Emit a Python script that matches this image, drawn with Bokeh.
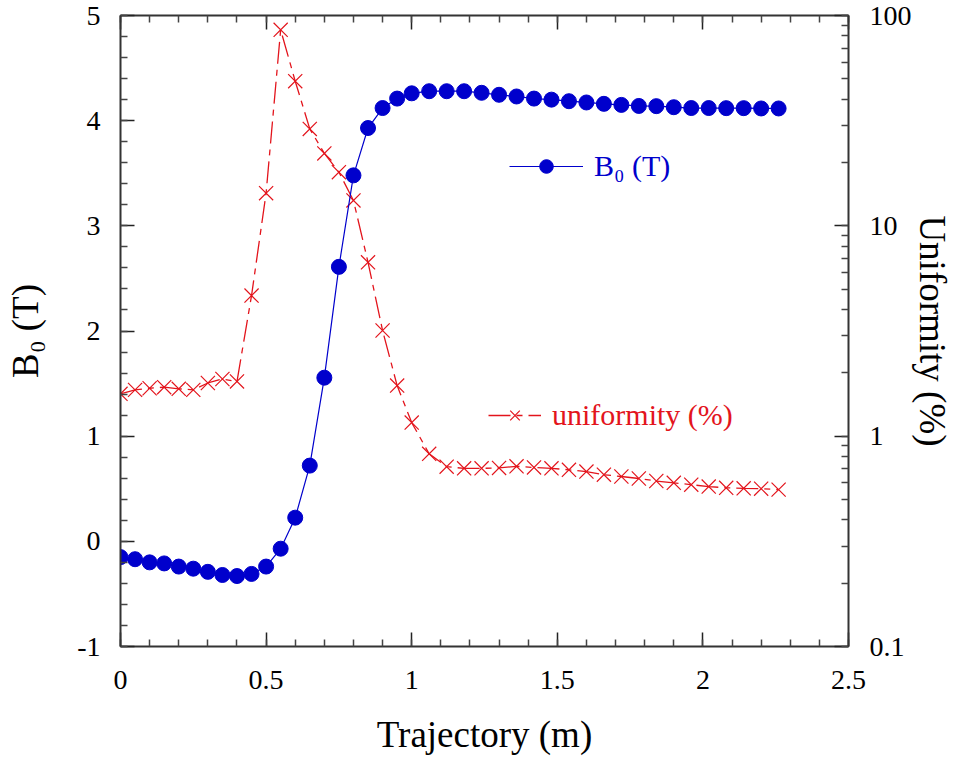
from bokeh.plotting import figure
from bokeh.models import (Range1d, LinearAxis, LogAxis, LogScale, SingleIntervalTicker,
                          LogTicker, CustomJSTickFormatter, Legend, LegendItem, ColumnDataSource)
from bokeh.embed import file_html
from bokeh.resources import INLINE

# ---------------- data ----------------
trajectory = [0.00, 0.05, 0.10, 0.15, 0.20, 0.25, 0.30, 0.35, 0.40, 0.45,
              0.50, 0.55, 0.60, 0.65, 0.70, 0.75, 0.80, 0.85, 0.90, 0.95,
              1.00, 1.06, 1.12, 1.18, 1.24, 1.30, 1.36, 1.42, 1.48, 1.54,
              1.60, 1.66, 1.72, 1.78, 1.84, 1.90, 1.96, 2.02, 2.08, 2.14,
              2.20, 2.26]
b0_tesla = [-0.15, -0.17, -0.20, -0.21, -0.24, -0.26, -0.29, -0.32, -0.33, -0.31,
            -0.24, -0.07, 0.225, 0.72, 1.556, 2.61, 3.48, 3.93, 4.12, 4.21,
            4.26, 4.28, 4.28, 4.28, 4.265, 4.246, 4.23, 4.21, 4.20, 4.185,
            4.173, 4.16, 4.15, 4.14, 4.138, 4.128, 4.12, 4.12, 4.119, 4.119,
            4.116, 4.116]
uniformity_pct = [1.59, 1.66, 1.69, 1.71, 1.68, 1.66, 1.79, 1.87, 1.82, 4.66,
                  14.3, 85.5, 48.7, 28.9, 22.1, 18.0, 13.2, 6.71, 3.18, 1.74,
                  1.16, 0.824, 0.716, 0.703, 0.703, 0.706, 0.719, 0.710, 0.703, 0.692,
                  0.679, 0.656, 0.643, 0.629, 0.612, 0.600, 0.588, 0.576, 0.568, 0.565,
                  0.563, 0.557]

x_label = "Trajectory (m)"
y_left_label = "B\u2080 (T)"
y_right_label = "Uniformity (%)"
b0_legend = "B\u2080 (T)"
u_legend = "uniformity (%)"

FONT = "Liberation Serif"
BLUE = "#0000cc"
RED = "#e3141c"

src = ColumnDataSource(dict(x=trajectory, b=b0_tesla, u=uniformity_pct))

p = figure(width=955, height=758, output_backend="svg", toolbar_location=None,
           x_range=Range1d(0, 2.5), y_range=Range1d(-1, 5),
           x_axis_location=None, y_axis_location=None,
           min_border_left=120, min_border_right=99,
           min_border_top=15, min_border_bottom=112)
p.extra_y_ranges = {"u": Range1d(0.1, 100)}
p.extra_y_scales = {"u": LogScale()}
p.grid.visible = False
p.outline_line_color = None
p.background_fill_color = "white"
p.border_fill_color = "white"

fmt = CustomJSTickFormatter(code="return String(Math.round(tick*1000)/1000)")
blank_fmt = CustomJSTickFormatter(code="return ''")


def style(ax):
    ax.major_tick_in = 14
    ax.major_tick_out = 0
    ax.minor_tick_in = 7
    ax.minor_tick_out = 0
    ax.axis_line_color = "#333333"
    ax.axis_line_width = 2
    ax.major_tick_line_color = "#222222"
    ax.major_tick_line_width = 1.5
    ax.minor_tick_line_color = "#444444"
    ax.minor_tick_line_width = 1.5
    ax.major_label_text_font = FONT
    ax.major_label_text_font_size = "28px"
    ax.major_label_text_color = "black"
    ax.axis_label_text_font = FONT
    ax.axis_label_text_font_size = "37px"
    ax.axis_label_text_font_style = "normal"
    ax.axis_label_text_color = "black"


xb = LinearAxis(ticker=SingleIntervalTicker(interval=0.5, num_minor_ticks=5),
                formatter=fmt, axis_label=x_label)
style(xb)
xb.major_label_standoff = 24
xb.axis_label_standoff = 22
p.add_layout(xb, "below")

xt = LinearAxis(ticker=SingleIntervalTicker(interval=0.5, num_minor_ticks=5),
                formatter=blank_fmt)
style(xt)
xt.major_label_standoff = 0
p.add_layout(xt, "above")

yl = LinearAxis(ticker=SingleIntervalTicker(interval=1, num_minor_ticks=5),
                formatter=fmt, axis_label=y_left_label)
style(yl)
yl.major_label_standoff = 20
yl.axis_label_standoff = 28
p.add_layout(yl, "left")

yr = LogAxis(y_range_name="u", ticker=LogTicker(num_minor_ticks=10),
             formatter=fmt, axis_label=y_right_label)
style(yr)
yr.major_label_standoff = 21
yr.axis_label_standoff = -3
p.add_layout(yr, "right")

# uniformity (log, right axis)
u_line = p.line("x", "u", source=src, y_range_name="u", line_color=RED,
                line_width=1.3, line_dash="22 6 6 6")
u_pts = p.scatter("x", "u", source=src, y_range_name="u", marker="x", size=20,
                  line_color=RED, line_width=1.2)

# B0 (linear, left axis)
b_line = p.line("x", "b", source=src, line_color=BLUE, line_width=1.2)
b_pts = p.scatter("x", "b", source=src, marker="circle", size=15,
                  fill_color=BLUE, line_color=BLUE)


def make_legend(item, loc, color, gw):
    lg = Legend(items=[item], location=loc, orientation="vertical")
    lg.label_text_font = FONT
    lg.label_text_font_size = "30px"
    lg.label_text_color = color
    lg.glyph_width = gw
    lg.glyph_height = 34
    lg.label_standoff = 11
    lg.padding = 0
    lg.margin = 0
    lg.spacing = 0
    lg.border_line_alpha = 0
    lg.background_fill_alpha = 0
    return lg


p.add_layout(make_legend(LegendItem(label=b0_legend, renderers=[b_line, b_pts]),
                         (389, 463), BLUE, 74))
p.add_layout(make_legend(LegendItem(label=u_legend, renderers=[u_line, u_pts]),
                         (368, 214), RED, 53))

open("out.html", "w").write(file_html(p, INLINE))
